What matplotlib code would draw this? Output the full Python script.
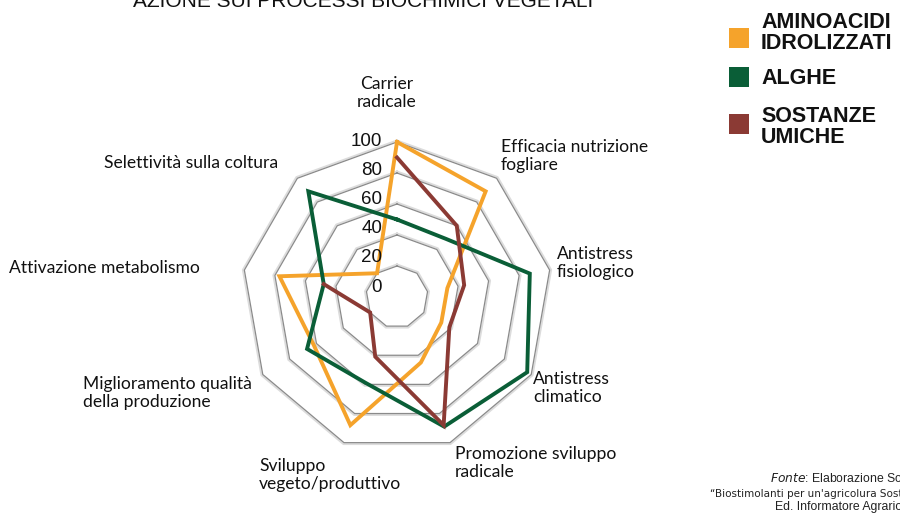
import numpy as np
import matplotlib
matplotlib.use("Agg")
import matplotlib.pyplot as plt
from matplotlib.patches import Rectangle

# dati (0-100)
categories = ["Carrier\nradicale", "Efficacia nutrizione\nfogliare", "Antistress\nfisiologico",
              "Antistress\nclimatico", "Promozione sviluppo\nradicale", "Sviluppo\nvegeto/produttivo",
              "Miglioramento qualità\ndella produzione", "Attivazione metabolismo",
              "Selettività sulla coltura"]
aminoacidi = [100, 89, 33, 33, 45, 88, 62, 77, 20]
alghe = [50, 49, 87, 97, 89, 59, 67, 48, 89]
umiche = [90, 60, 44, 39, 88, 41, 20, 48, np.nan]
rings = [20, 40, 60, 80, 100]
tick_labels = ["0", "20", "40", "60", "80", "100"]
series_names = ["AMINOACIDI\nIDROLIZZATI", "ALGHE", "SOSTANZE\nUMICHE"]
colors = ["#F5A32B", "#0A5E37", "#8B3A34"]

W, H = 900, 514


def px(x, y):
    return x / W, 1 - y / H


fig = plt.figure(figsize=(9, 5.14), dpi=100)

# polar axes centred at (397, 297) px, radius 155 px
cx, cy, R = 397, 297, 155
ax = fig.add_axes([(cx - R) / W, (H - cy - R) / H, 2 * R / W, 2 * R / H], projection="polar")
ax.set_theta_offset(np.pi / 2)
ax.set_theta_direction(-1)
ax.set_ylim(0, 100)
ax.set_axis_off()

n = len(categories)
theta = np.arange(n + 1) * 2 * np.pi / n

# nonagon grid
for r in rings:
    ax.plot(theta, [r + 1.0] * (n + 1), color="#dcdcdc", lw=1.4, clip_on=False, zorder=1)
    ax.plot(theta, [r] * (n + 1), color="#8a8a8a", lw=0.9, clip_on=False, zorder=2)

for vals, c in zip([aminoacidi, alghe, umiche], colors):
    ax.plot(theta, list(vals) + [vals[0]], color=c, lw=2.8, clip_on=False, zorder=3,
            solid_joinstyle="miter")

# tick labels
num_font = ["Liberation Sans", "DejaVu Sans"]
for i, t in enumerate(tick_labels):
    x, y = px(382, 287 - 29.1 * i)
    fig.text(x, y, t, ha="right", va="center", fontsize=13.5, family=num_font, color="#111111")

# category labels
lab_font = ["Lato", "DejaVu Sans"]
lab_pos = [(387, 93, "center"), (501, 156, "left"), (557, 263, "left"), (533, 388, "left"),
           (455, 463, "left"), (259, 475, "left"), (83, 393, "left"), (9, 268, "left"),
           (104, 163, "left")]
for lab, (x, y, ha) in zip(categories, lab_pos):
    fx, fy = px(x, y)
    fig.text(fx, fy, lab, ha=ha, va="center", fontsize=12.6, family=lab_font,
             color="#111111", linespacing=1.12, multialignment=ha)

# legend
leg_font = ["Liberation Sans", "DejaVu Sans"]
leg_sq = [38, 77, 124]
leg_txt = [33, 78, 127]
for name, c, ys, yt in zip(series_names, colors, leg_sq, leg_txt):
    x0, y0 = px(729, ys + 10)
    fig.patches.append(Rectangle((x0, y0), 20 / W, 20 / H, transform=fig.transFigure,
                                 facecolor=c, edgecolor="none"))
    fx, fy = px(761, yt)
    fig.text(fx, fy, name, ha="left", va="center", fontsize=15.5, fontweight="bold",
             family=leg_font, color="#111111", linespacing=1.0)

# title, cut at the top edge
fx, fy = px(133, 7)
fig.text(fx, fy, "AZIONE SUI PROCESSI BIOCHIMICI VEGETALI", ha="left", va="baseline",
         fontsize=15, family=leg_font, color="#111111")

# source
src_font = ["Liberation Sans", "DejaVu Sans"]
fx, fy = px(770, 479)
fig.text(fx, fy, r"$\it{Fonte}$: Elaborazione Sostenibile", ha="left", va="center",
         fontsize=8.8, family=src_font, color="#222222")
fx, fy = px(710, 494)
fig.text(fx, fy, "“Biostimolanti per un'agricolura Sostenibile”", ha="left", va="center",
         fontsize=7.5, family=["DejaVu Sans"], color="#222222")
fx, fy = px(775, 507)
fig.text(fx, fy, "Ed. Informatore Agrario", ha="left", va="center",
         fontsize=8.8, family=src_font, color="#222222")

fig.savefig("out.png", dpi=100)
